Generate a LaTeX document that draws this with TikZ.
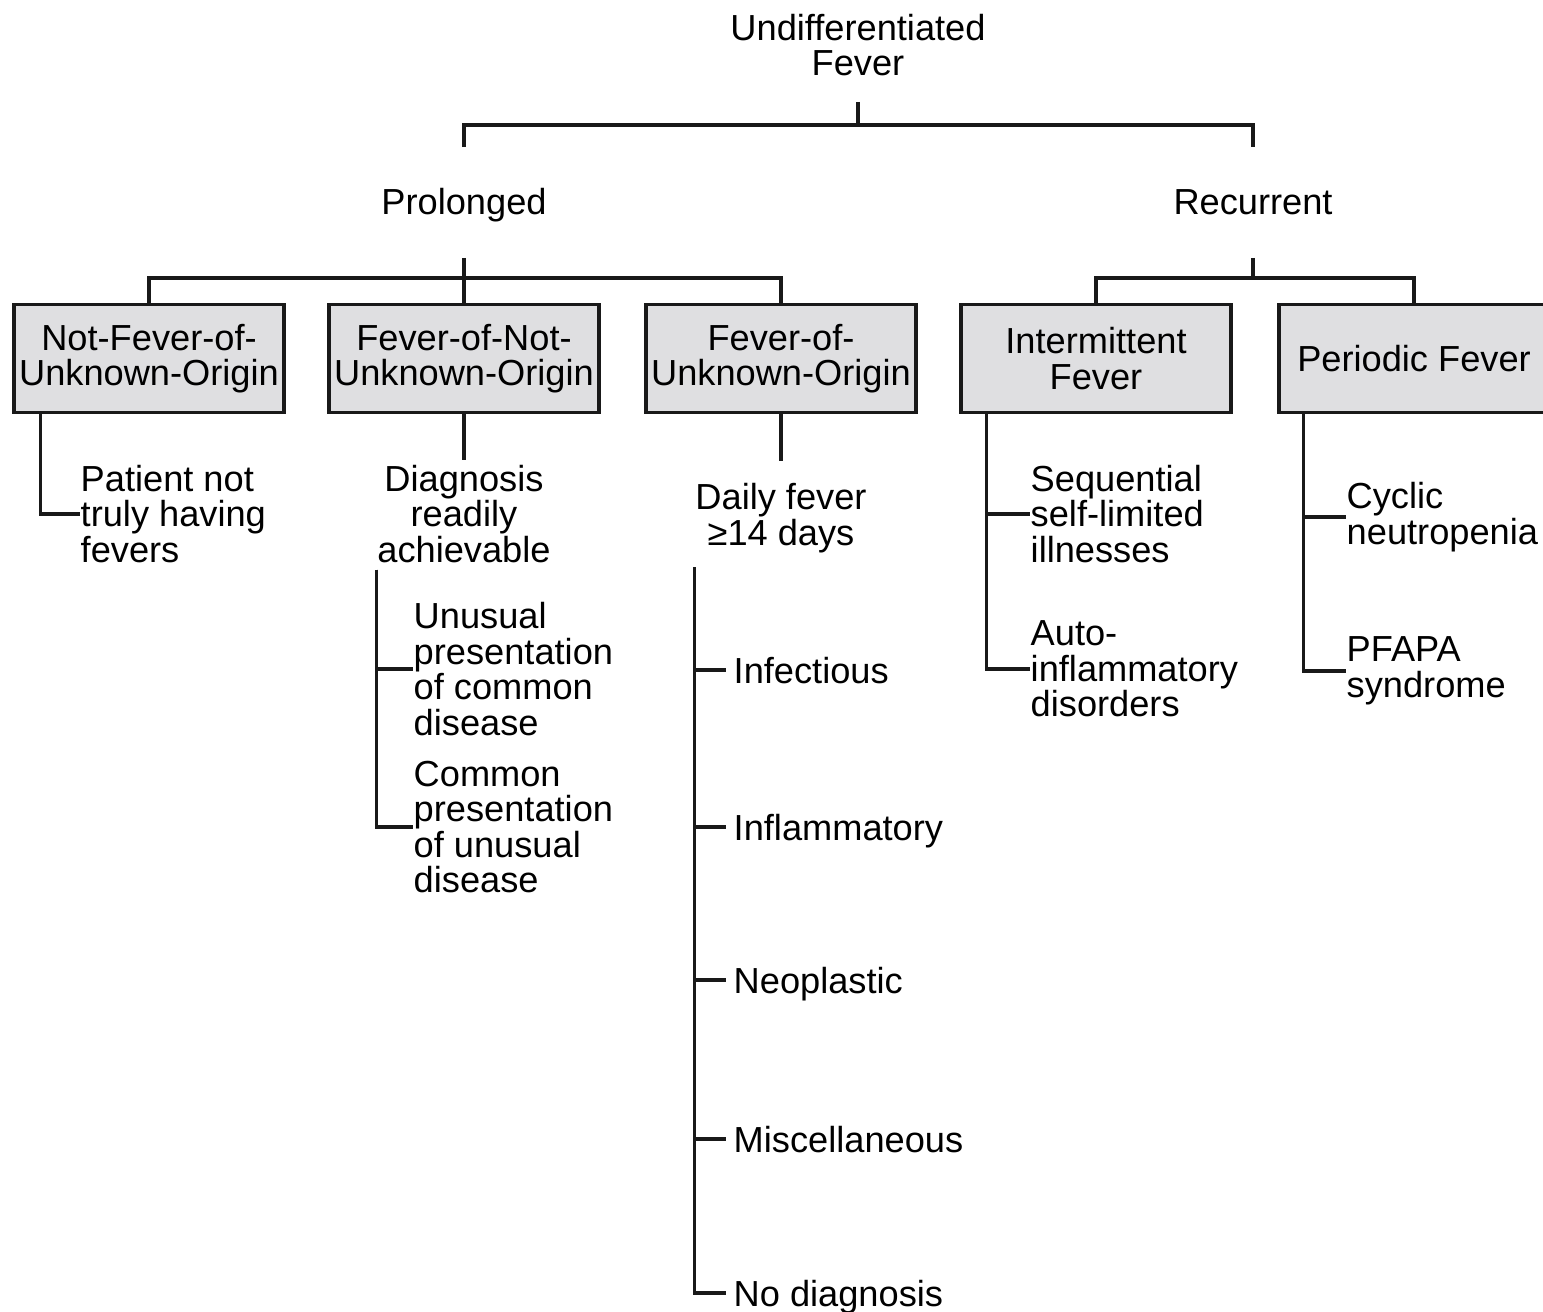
\documentclass[tikz,border=0pt]{standalone}
\usepackage{fontspec}
\setmainfont{Liberation Sans}
\usetikzlibrary{positioning, calc}
\definecolor{boxgray}{RGB}{223,223,225}
\tikzset{
    lbl/.style={font=\fontsize{10.3}{10.1}\selectfont, inner sep=0pt, align=center},
    lft/.style={lbl, align=left, anchor=west},
    leaf/.style={lft, text height=7.5pt, text depth=0pt},
    branch/.style={lbl, text height=7.5pt, text depth=0pt},
    cat/.style={lbl, draw=black!90, line width=1.1pt, fill=boxgray, minimum width=2.7cm, minimum height=1.08cm},
    link/.style={line width=0.9pt, black!90}
}

\begin{document}
\begin{tikzpicture}[x=0.01cm, y=-0.01cm]
    \useasboundingbox (0,0) rectangle (1543,1311);

    % Nivel superior
    \node[lbl] (undiff) at (858,45) {Undifferentiated\\Fever};
    \node[branch] (prol) at (464,201) {Prolonged};
    \node[branch] (recur) at (1253,201) {Recurrent};
    \coordinate (topbus) at (858,125);
    \draw[link] ([yshift=-0.25cm]undiff.south) -- (topbus);
    \draw[link] ([yshift=0.4cm]prol.north) |- (topbus) -| ([yshift=0.4cm]recur.north);

    % Categorias
    \node[cat] (nfuo) at (149,358.5) {Not-Fever-of-\\Unknown-Origin};
    \node[cat] (fnuo) at (464,358.5) {Fever-of-Not-\\Unknown-Origin};
    \node[cat] (fuo) at (781,358.5) {Fever-of-\\Unknown-Origin};
    \node[cat] (interm) at (1096,358.5) {Intermittent\\Fever};
    \node[cat] (period) at (1414,358.5) {Periodic Fever};

    \coordinate (prolbus) at (464,278);
    \coordinate (recbus) at (1253,278);
    \draw[link] ([yshift=-0.43cm]prol.south) -- (prolbus);
    \draw[link] (nfuo.north) |- (prolbus) -| (fuo.north);
    \draw[link] (fnuo.north) -- (prolbus);
    \draw[link] ([yshift=-0.43cm]recur.south) -- (recbus);
    \draw[link] (interm.north) |- (recbus) -| (period.north);

    % Not-FUO
    \node[lft] (notfev) at (80,514) {Patient not\\truly having\\fevers};
    \draw[link] ([xshift=0.285cm]nfuo.south west) |- (notfev.west);

    % Fever-of-not-unknown-origin
    \node[lbl] (diag) at (464,514) {Diagnosis\\readily\\achievable};
    \draw[link] (fnuo.south) -- ([yshift=0.04cm]diag.north);
    \node[lft] (unusual) at (413,669) {Unusual\\presentation\\of common\\disease};
    \node[lft] (common) at (413,827) {Common\\presentation\\of unusual\\disease};
    \draw[link] ([yshift=-0.06cm]diag.south west) |- (unusual.west);
    \draw[link] ([yshift=-0.06cm]diag.south west) |- (common.west);

    % FUO
    \node[lbl] (daily) at (781,518) {Daily fever\\≥14 days};
    \draw[link] (fuo.south) -- ([yshift=0.22cm]daily.north);
    \foreach \nm/\txt/\yy in {infect/Infectious/670, inflam/Inflammatory/827, neopl/Neoplastic/980, misc/Miscellaneous/1139, nodiag/No diagnosis/1293}{
        \node[leaf] (\nm) at (733,\yy) {\txt};
        \draw[link] ([yshift=-0.14cm]daily.south west) |- ([xshift=-0.07cm]\nm.west);
    }

    % Recurrent
    \node[lft] (seq) at (1030,514) {Sequential\\self-limited\\illnesses};
    \node[lft] (autoinf) at (1030,669) {Auto-\\inflammatory\\disorders};
    \draw[link] ([xshift=0.275cm]interm.south west) |- (seq.west);
    \draw[link] ([xshift=0.275cm]interm.south west) |- (autoinf.west);

    \node[lft] (cyclic) at (1346,517) {Cyclic\\neutropenia};
    \node[lft] (pfapa) at (1346,671) {PFAPA\\syndrome};
    \draw[link] ([xshift=0.265cm]period.south west) |- (cyclic.west);
    \draw[link] ([xshift=0.265cm]period.south west) |- (pfapa.west);
\end{tikzpicture}
\end{document}
